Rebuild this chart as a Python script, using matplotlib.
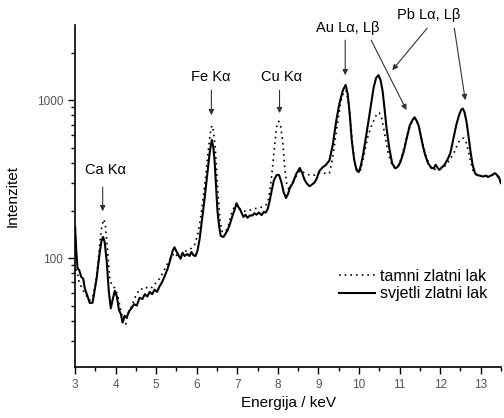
import numpy as np
import matplotlib
matplotlib.use("Agg")
import matplotlib.pyplot as plt
from matplotlib.ticker import LogLocator, NullFormatter

plt.rcParams['font.family'] = ['Liberation Sans', 'DejaVu Sans']

# svjetli zlatni lak (solid)
e_svj = [3.0, 3.03, 3.06, 3.1, 3.15, 3.2, 3.24, 3.3, 3.36, 3.43, 3.48, 3.53, 3.6, 3.65, 3.69, 3.73,
         3.78, 3.83, 3.88, 3.93, 3.98, 4.03, 4.08, 4.13, 4.17, 4.22, 4.27, 4.33, 4.39, 4.45, 4.52,
         4.59, 4.66, 4.72, 4.78, 4.84, 4.9, 4.96, 5.02, 5.08, 5.14, 5.2, 5.27, 5.33, 5.4, 5.45, 5.5,
         5.55, 5.6, 5.65, 5.7, 5.77, 5.82, 5.87, 5.92, 5.97, 6.02, 6.07, 6.13, 6.19, 6.26, 6.32,
         6.37, 6.41, 6.44, 6.48, 6.51, 6.55, 6.59, 6.66, 6.72, 6.76, 6.82, 6.88, 6.94, 6.98, 7.02,
         7.08, 7.15, 7.2, 7.25, 7.31, 7.37, 7.42, 7.47, 7.53, 7.6, 7.65, 7.7, 7.75, 7.8, 7.85, 7.9,
         7.97, 8.03, 8.09, 8.14, 8.2, 8.25, 8.3, 8.37, 8.45, 8.54, 8.6, 8.66, 8.72, 8.78, 8.84, 8.9,
         8.96, 9.02, 9.1, 9.18, 9.27, 9.35, 9.44, 9.52, 9.6, 9.67, 9.72, 9.77, 9.82, 9.88, 9.94,
         9.99, 10.04, 10.1, 10.16, 10.22, 10.28, 10.36, 10.42, 10.48, 10.53, 10.58, 10.63, 10.68,
         10.75, 10.82, 10.9, 10.96, 11.02, 11.1, 11.18, 11.25, 11.32, 11.37, 11.42, 11.47, 11.52,
         11.57, 11.63, 11.7, 11.78, 11.84, 11.89, 11.94, 11.98, 12.04, 12.11, 12.18, 12.25, 12.32,
         12.4, 12.47, 12.52, 12.56, 12.6, 12.65, 12.7, 12.75, 12.8, 12.86, 12.92, 13.0, 13.06,
         13.12, 13.18, 13.24, 13.3, 13.35, 13.4, 13.45, 13.5]
i_svj = [158, 110, 86, 84, 76, 74, 64, 58, 52, 52, 62, 74, 105, 128, 136, 126,
         95, 62, 48, 55, 62, 57, 47, 44, 39, 43, 42, 46, 48, 51, 50,
         56, 55, 59, 57, 61, 59, 63, 61, 66, 70, 76, 84, 94, 110, 117, 110,
         104, 99, 108, 103, 106, 103, 109, 104, 103, 112, 132, 175, 235, 340, 470,
         560, 500, 410, 270, 200, 160, 138, 136, 144, 150, 165, 185, 205, 222, 212,
         200, 182, 188, 180, 186, 186, 192, 188, 194, 187, 196, 194, 205, 232, 270, 310,
         336, 335, 300, 262, 240, 255, 280, 300, 340, 372, 345, 312, 295, 285, 292, 300,
         320, 355, 375, 388, 415, 515, 745, 960, 1150, 1250, 1100, 820, 560, 420, 360,
         350, 380, 450, 560, 700, 880, 1200, 1380, 1440, 1340, 1150, 880, 660,
         490, 395, 370, 380, 405, 470, 580, 690, 750, 780, 740, 690, 600,
         520, 450, 400, 372, 370, 390, 372, 362, 375, 390, 420, 460, 560,
         700, 810, 870, 885, 840, 730, 590, 470, 390, 345, 335, 332, 328,
         333, 326, 332, 338, 345, 336, 325, 298]

# tamni zlatni lak (dotted)
e_tam = [3.02, 3.06, 3.1, 3.15, 3.2, 3.25, 3.3, 3.36, 3.43, 3.5, 3.56, 3.61, 3.66, 3.71, 3.75,
         3.8, 3.85, 3.9, 3.95, 4.0, 4.05, 4.1, 4.15, 4.2, 4.25, 4.3, 4.4, 4.5, 4.6, 4.7, 4.8, 4.9,
         5.0, 5.1, 5.2, 5.3, 5.38, 5.45, 5.52, 5.6, 5.7, 5.8, 5.88, 5.95, 6.02, 6.08, 6.15, 6.22,
         6.28, 6.33, 6.37, 6.41, 6.45, 6.49, 6.53, 6.57, 6.62, 6.7, 6.78, 6.85, 6.92, 6.97, 7.03,
         7.1, 7.2, 7.3, 7.4, 7.5, 7.6, 7.7, 7.76, 7.82, 7.87, 7.92, 7.97, 8.02, 8.07, 8.12, 8.17,
         8.22, 8.28, 8.35, 8.45, 8.55, 8.62, 8.7, 8.8, 8.9, 9.0, 9.1, 9.2, 9.27, 9.35, 9.45, 9.55,
         9.62, 9.68, 9.73, 9.78, 9.84, 9.9, 9.96, 10.03, 10.1, 10.16, 10.22, 10.3, 10.38, 10.45,
         10.5, 10.55, 10.6, 10.66, 10.72, 10.8, 10.88, 10.96, 11.04, 11.12, 11.2, 11.28, 11.36,
         11.42, 11.48, 11.55, 11.62, 11.7, 11.78, 11.86, 11.95, 12.05, 12.15, 12.25, 12.35, 12.45,
         12.52, 12.58, 12.64, 12.7, 12.76, 12.82, 12.9, 13.0, 13.1, 13.2, 13.3, 13.4, 13.5]
i_tam = [85, 80, 70, 66, 62, 60, 56, 54, 56, 68, 90, 125, 160, 176, 158,
         112, 76, 68, 66, 63, 58, 50, 44, 40, 38, 44, 50, 58, 64, 63, 66, 65,
         70, 75, 84, 95, 102, 108, 103, 104, 110, 112, 116, 122, 140, 170, 230, 330,
         470, 610, 690, 640, 520, 360, 240, 175, 148, 146, 160, 190, 210, 220, 210,
         200, 198, 200, 205, 207, 210, 216, 230, 290, 380, 520, 680, 735, 680, 540, 370,
         290, 270, 295, 330, 360, 350, 340, 335, 335, 345, 350, 340, 345, 430, 660, 980,
         1120, 1150, 1000, 780, 520, 390, 355, 355, 420, 500, 590, 680, 760, 830,
         830, 790, 680, 560, 460, 400, 370, 375, 430, 510, 620, 710, 770,
         745, 680, 560, 470, 410, 375, 365, 362, 368, 390, 425, 470, 540,
         570, 575, 540, 470, 400, 350, 335, 330, 330, 330, 335, 332, 300]

# peak labels: text, text position, arrow tail, arrow tip
peak_txt = ["Ca K\u03b1", "Fe K\u03b1", "Cu K\u03b1", "Au L\u03b1, L\u03b2", "Pb L\u03b1, L\u03b2"]
peak_pos = [(3.74, 361), (6.34, 1399), (8.09, 1399), (9.71, 2858), (11.71, 3451)]
arrows = [((3.68, 281), (3.68, 198)),
          ((6.36, 1157), (6.36, 803)),
          ((8.04, 1157), (8.04, 828)),
          ((9.66, 2399), (9.66, 1440)),
          ((10.30, 2399), (11.17, 865)),
          ((11.68, 2858), (10.82, 1549)),
          ((12.35, 2858), (12.62, 1000))]


def main():
    fig = plt.figure(figsize=(5.04, 4.18), dpi=100)
    ax = fig.add_axes([0.149, 0.122, 0.845, 0.818])

    ax.plot(e_tam, i_tam, color="black", lw=1.2, linestyle=(0, (1, 2.4)),
            label="tamni zlatni lak")
    ax.plot(e_svj, i_svj, color="black", lw=1.5, label="svjetli zlatni lak")

    ax.set_yscale("log")
    ax.set_xlim(3, 13.5)
    ax.set_ylim(20.4, 2990)

    ax.set_xticks(np.arange(3, 14, 1))
    ax.set_xticks(np.arange(3.5, 13.6, 1), minor=True)
    ax.set_yticks([100, 1000], ["100", "1000"])
    ax.yaxis.set_minor_locator(LogLocator(base=10, subs=np.arange(2, 10)))
    ax.yaxis.set_minor_formatter(NullFormatter())

    ax.tick_params(which="major", direction="out", length=5, width=1.0,
                   labelsize=8.5, labelcolor="#555555")
    ax.tick_params(which="minor", direction="out", length=3, width=1.0)

    for s in ["top", "right"]:
        ax.spines[s].set_visible(False)
    for s in ["left", "bottom"]:
        ax.spines[s].set_linewidth(1.2)

    ax.set_xlabel("Energija / keV", fontsize=11, labelpad=4)
    ax.set_ylabel("Intenzitet", fontsize=11, labelpad=12)

    for txt, pos in zip(peak_txt, peak_pos):
        ax.text(pos[0], pos[1], txt, fontsize=10.5, ha="center", va="center", clip_on=False)
    for tail, tip in arrows:
        ax.annotate("", xy=tip, xytext=tail, annotation_clip=False,
                    arrowprops=dict(arrowstyle="-|>", color="#333333", lw=0.8,
                                    mutation_scale=8, shrinkA=0, shrinkB=0))

    ax.legend(loc="center left", bbox_to_anchor=(0.585, 0.24), frameon=False,
              fontsize=11.5, handlelength=2.3, handletextpad=0.3, labelspacing=0.15)

    fig.savefig("out.png", dpi=100)


if __name__ == "__main__":
    main()
